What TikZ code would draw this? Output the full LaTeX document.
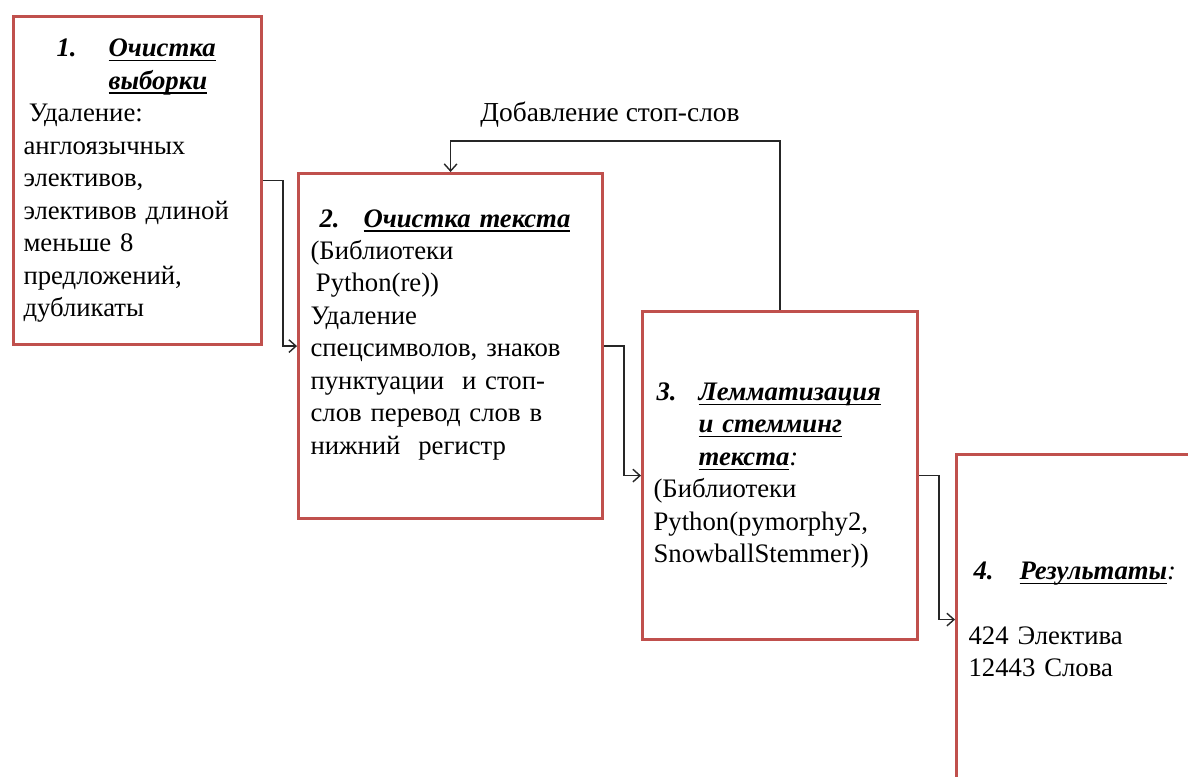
\documentclass[tikz,border=0pt]{standalone}
\usepackage{fontspec}
\setmainfont{Liberation Serif}
\usepackage{tikz}
\usetikzlibrary{arrows.meta, positioning, calc}

\definecolor{boxred}{HTML}{C0504D}

% underline at a fixed depth
\newsavebox{\ulnbox}
\newcommand{\uln}[1]{\leavevmode\sbox{\ulnbox}{#1}\rlap{\rule[-3.2pt]{\wd\ulnbox}{0.9pt}}\usebox{\ulnbox}}
% heading line of a stage: indent, number width, number, title
\newcommand{\stagehead}[4]{\hspace*{#1}\makebox[#2][l]{\bfseries\itshape #3}{\bfseries\itshape #4}}

\begin{document}
\begin{tikzpicture}[x=0.025cm, y=-0.025cm,
    stagebox/.style={draw=boxred, line width=2.2pt, fill=white, align=left, anchor=north west,
        font=\fontsize{19}{23.1}\selectfont},
    link/.style={draw=black!85, line width=1pt, -{Straight Barb[length=5pt, width=9pt]}}]

        \useasboundingbox (0,0) rectangle (1188,776);
        \clip (0,0) rectangle (1188,776);

        % ------------------ Stages ------------------

        % 1. Sample cleaning
        \node[stagebox, inner xsep=0.25cm, text width=5.7cm, minimum height=8.2cm] (clean) at (12,15) {%
            \stagehead{0.825cm}{1.3cm}{1.}{\uln{Очистка}}\\
            \stagehead{0.825cm}{1.3cm}{}{\uln{выборки}}\\
            \hspace*{0.2em}Удаление:\\
            англоязычных\\
            элективов,\\
            элективов длиной\\
            меньше 8\\
            предложений,\\
            дубликаты};

        % 2. Text cleaning
        \node[stagebox, inner xsep=0.3cm, text width=7cm, minimum height=8.625cm] (text) at (297,172) {%
            \stagehead{0.225cm}{1.1cm}{2.}{\uln{Очистка текста}}\\
            (Библиотеки\\
            \hspace*{0.2em}Python(re))\\
            Удаление\\
            спецсимволов, знаков\\
            пунктуации \ и стоп-\\
            слов перевод слов в\\
            нижний \ регистр\\[-0.1cm]\mbox{}};

        % 3. Lemmatization
        \node[stagebox, inner xsep=0.275cm, text width=6.325cm, minimum height=8.2cm] (lemma) at (641,310) {%
            \stagehead{0.075cm}{1.05cm}{3.}{\uln{Лемматизация}}\\
            \stagehead{0.075cm}{1.05cm}{}{\uln{и стемминг}}\\
            \stagehead{0.075cm}{1.05cm}{}{\uln{текста}{\mdseries:}}\\
            (Библиотеки\\
            Python(pymorphy2,\\
            SnowballStemmer))};

        % 4. Results
        \node[stagebox, inner xsep=0.3cm, text width=6.9cm, minimum height=8.25cm] (result) at (955,453) {%
            \stagehead{0.125cm}{1.15cm}{4.}{\uln{Результаты}{\mdseries:}}\\[0.81cm]
            424 Электива\\
            12443 Слова};

        % ------------------ Arrows ------------------

        \draw[link] (clean.east) -- ++(20,0) |- (text.west);
        \draw[link] (text.east) -- ++(20,0) |- (lemma.west);
        \draw[link] (lemma.east) -- ++(20,0) |- (result.west);

        % Feedback
        \coordinate (loop) at (610,141);
        \draw[link] (lemma.north) |- (loop) -| (text.north);
        \node[font=\fontsize{19.5}{23.1}\selectfont] (looplabel) at (610,115) {Добавление стоп-слов};

    \end{tikzpicture}
\end{document}
